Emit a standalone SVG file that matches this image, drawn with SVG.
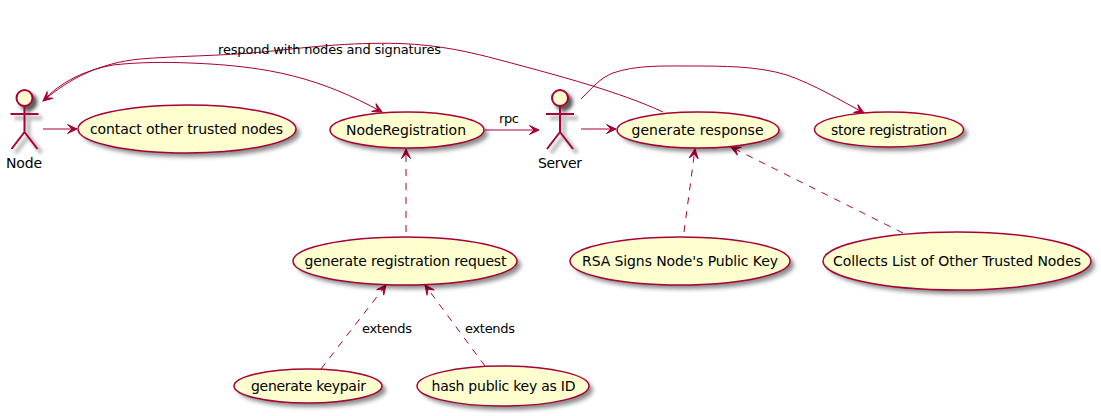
<svg xmlns="http://www.w3.org/2000/svg" width="1101" height="416" viewBox="0 0 1101 416">
<defs>
<filter id="sh" x="-20%" y="-30%" width="150%" height="170%"><feGaussianBlur stdDeviation="2"/></filter>
<filter id="ash" x="-50%" y="-30%" width="200%" height="160%"><feGaussianBlur stdDeviation="1.5"/></filter>
<marker id="arr" viewBox="0 0 14 12" refX="13" refY="6" markerWidth="14" markerHeight="12" markerUnits="userSpaceOnUse" orient="auto"><path d="M3.5,1.5 L13,6 L3.5,10.5 L8,6 Z" fill="#A80036" stroke="#A80036"/></marker>
<g id="actor"><circle cx="0" cy="0" r="8"/><path d="M0,8 V34 M-14,16 H14 M0,34 L-13,51 M0,34 L13,51"/></g>
</defs>
<style>
text{font-family:"DejaVu Sans",sans-serif;fill:#000}
.u{font-size:14px;text-anchor:middle}
.l{font-size:13px}
.e{fill:#FEFECE;stroke:#A80036;stroke-width:1.5}
.s{fill:#000;fill-opacity:.45;stroke:none;filter:url(#sh)}
.c{fill:none;stroke:#A80036;stroke-width:1;marker-end:url(#arr)}
.d{stroke-dasharray:7,7}
.a{fill:#FEFECE;stroke:#A80036;stroke-width:2}
.a path{fill:none}
.as{fill:#000;fill-opacity:.6;stroke:#000;stroke-opacity:.22;stroke-width:5;filter:url(#ash)}
.as path{fill:none}
</style>
<g id="connectors">
<path class="c" d="M43,129 H77"/>
<path class="c" d="M43,101 C60,82 85,70 113,65 C140,62 165,62 190,63 C270,66 320,78 382,112"/>
<path class="c" d="M663,112 C620,92 560,76 500,60 C470,52 440,45 400,43.5 C350,42 300,48 263,52 C220,56 175,56 140,59 C100,63 70,78 43,101"/>
<path class="c" d="M485,130 H539"/>
<path class="c" d="M581,129 H616"/>
<path class="c" d="M581,99 C592,88 600,78 613,73 C635,65 665,66 687,66 C725,66 757,66 787,75 C815,85 840,100 864,113"/>
<path class="c d" d="M406,232 V149"/>
<path class="c d" d="M684,232 L695,149"/>
<path class="c d" d="M903,233 L731,147"/>
<path class="c d" d="M321,369 L386,285"/>
<path class="c d" d="M485,366 L425,285"/>
<text class="l" x="218" y="54" textLength="223">respond with nodes and signatures</text>
<text class="l" x="499" y="123" textLength="20">rpc</text>
<text class="l" x="362" y="333" textLength="50">extends</text>
<text class="l" x="465" y="333" textLength="50">extends</text>
</g>
<g id="node-actor"><use href="#actor" class="as" x="28.500" y="102"/><use href="#actor" class="a" x="24.500" y="98"/><text class="u" x="24" y="168" textLength="36">Node</text></g>
<g id="server-actor"><use href="#actor" class="as" x="564" y="102"/><use href="#actor" class="a" x="560" y="98"/><text class="u" x="560" y="168" textLength="44">Server</text></g>
<g id="contact"><ellipse class="s" cx="191" cy="133" rx="109" ry="24"/><ellipse class="e" cx="187" cy="129" rx="109" ry="24"/><text class="u" x="186.500" y="134" textLength="193">contact other trusted nodes</text></g>
<g id="registration"><ellipse class="s" cx="411" cy="134" rx="77" ry="18"/><ellipse class="e" cx="407" cy="130" rx="77" ry="18"/><text class="u" x="406" y="135" textLength="120">NodeRegistration</text></g>
<g id="response"><ellipse class="s" cx="702" cy="134" rx="81" ry="18"/><ellipse class="e" cx="698" cy="130" rx="81" ry="18"/><text class="u" x="697.500" y="135" textLength="132">generate response</text></g>
<g id="store"><ellipse class="s" cx="893" cy="133.500" rx="74.500" ry="17.500"/><ellipse class="e" cx="889" cy="129.500" rx="74.500" ry="17.500"/><text class="u" x="889" y="135" textLength="116">store registration</text></g>
<g id="request"><ellipse class="s" cx="409" cy="265" rx="112" ry="24"/><ellipse class="e" cx="405" cy="261" rx="112" ry="24"/><text class="u" x="405.500" y="266" textLength="202">generate registration request</text></g>
<g id="rsa"><ellipse class="s" cx="684" cy="265" rx="110" ry="24"/><ellipse class="e" cx="680" cy="261" rx="110" ry="24"/><text class="u" x="680" y="266" textLength="196">RSA Signs Node's Public Key</text></g>
<g id="collects"><ellipse class="s" cx="961" cy="265" rx="134" ry="29"/><ellipse class="e" cx="957" cy="261" rx="134" ry="29"/><text class="u" x="957" y="266" textLength="248">Collects List of Other Trusted Nodes</text></g>
<g id="keypair"><ellipse class="s" cx="312" cy="390" rx="74" ry="17"/><ellipse class="e" cx="308" cy="386" rx="74" ry="17"/><text class="u" x="308.500" y="391" textLength="115">generate keypair</text></g>
<g id="hash"><ellipse class="s" cx="507" cy="390" rx="86" ry="20"/><ellipse class="e" cx="503" cy="386" rx="86" ry="20"/><text class="u" x="503.500" y="391" textLength="144">hash public key as ID</text></g>
</svg>
